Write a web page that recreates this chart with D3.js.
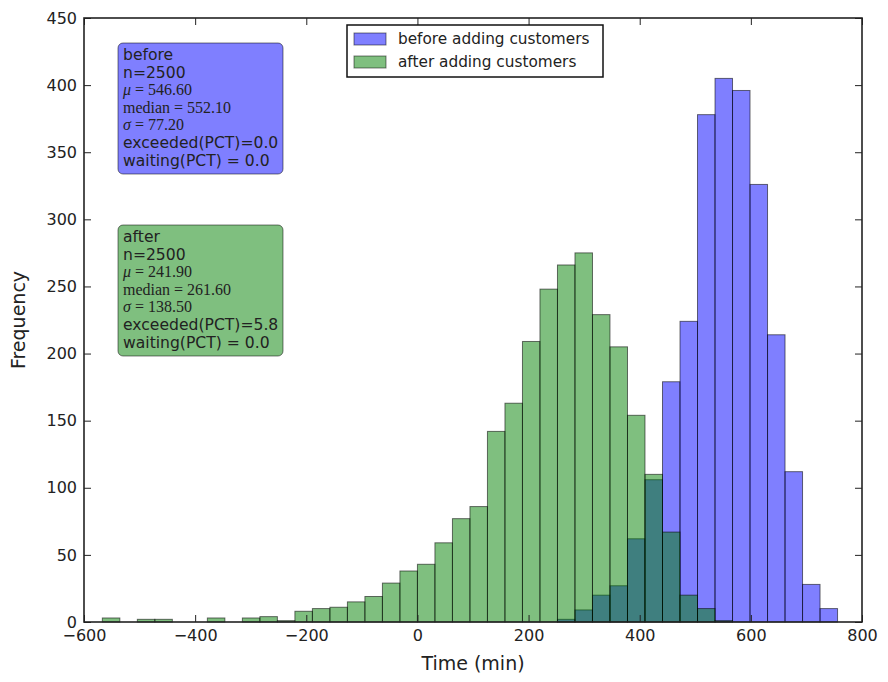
<!DOCTYPE html>
<html>
<head>
<meta charset="utf-8">
<script src="https://cdn.jsdelivr.net/npm/d3@7"></script>
<style>
  body { margin: 0; background: #fff; }
  text { font-family: "DejaVu Sans", sans-serif; fill: #222; }
  .math { font-family: "Liberation Serif", serif; }
</style>
</head>
<body>
<script>
// step 1: data

var binEdges = [-567, -535.5, -504, -472.5, -441, -409.5, -378, -346.5, -315, -283.5,
  -252, -220.5, -189, -157.5, -126, -94.5, -63, -31.5, 0, 31.5,
  63, 94.5, 126, 157.5, 189, 220.5, 252, 283.5, 315, 346.5,
  378, 409.5, 441, 472.5, 504, 535.5, 567, 598.5, 630, 661.5,
  693, 724.5, 756];

var beforeCounts = [0, 0, 0, 0, 0, 0, 0, 0, 0, 0,
  0, 0, 0, 0, 0, 0, 0, 0, 0, 0,
  0, 0, 0, 0, 0, 0, 2, 9, 20, 27,
  62, 106, 179, 224, 378, 405, 396, 326, 214, 112,
  28, 10];

var afterCounts = [3, 0, 2, 2, 0, 0, 3, 0, 3, 4,
  1, 8, 10, 11, 15, 19, 29, 38, 43, 59,
  77, 86, 142, 163, 209, 248, 266, 275, 229, 205,
  154, 110, 67, 20, 10, 1, 0, 0, 0, 0,
  0, 0];

var seriesNames = ["before adding customers", "after adding customers"];
var seriesColors = ["blue", "green"];

var xTicks = [-600, -400, -200, 0, 200, 400, 600, 800];
var yTicks = [0, 50, 100, 150, 200, 250, 300, 350, 400, 450];

// stats boxes: label, n, mu, median, sigma, exceeded, waiting
var boxLabels = ["before", "after"];
var boxN = ["2500", "2500"];
var boxMu = ["546.60", "241.90"];
var boxMedian = ["552.10", "261.60"];
var boxSigma = ["77.20", "138.50"];
var boxExceeded = ["0.0", "5.8"];
var boxWaiting = ["0.0", "0.0"];

// step 2: set up chart

var svgWidth = 888;
var svgHeight = 682;

var plot = { left: 84, right: 862, top: 18, bottom: 622 };

var svg = d3.select("body")
  .append("svg")
  .attr("width", svgWidth)
  .attr("height", svgHeight);

var xScale = d3.scaleLinear()
  .domain([-600, 800])
  .range([plot.left, plot.right]);

var yScale = d3.scaleLinear()
  .domain([0, 450])
  .range([plot.bottom, plot.top]);

// step 3: bars (before first, after on top)

function binData(counts) {
  return counts.map(function (c, i) {
    return { x0: binEdges[i], x1: binEdges[i + 1], count: c };
  }).filter(function (d) { return d.count > 0; });
}

[beforeCounts, afterCounts].forEach(function (counts, s) {
  svg.append("g")
    .selectAll("rect")
    .data(binData(counts))
    .enter()
    .append("rect")
    .attr("x", d => xScale(d.x0))
    .attr("width", d => xScale(d.x1) - xScale(d.x0))
    .attr("y", d => yScale(d.count))
    .attr("height", d => yScale(0) - yScale(d.count))
    .attr("fill", seriesColors[s])
    .attr("fill-opacity", 0.5)
    .attr("stroke", "black")
    .attr("stroke-opacity", 0.55)
    .attr("stroke-width", 1);
});

// step 4: axes, ticks pointing inward on all four sides

var bottomAxis = d3.axisBottom(xScale).tickValues(xTicks).tickSizeInner(-7).tickSizeOuter(0).tickPadding(8);
var topAxis = d3.axisTop(xScale).tickValues(xTicks).tickSizeInner(-7).tickSizeOuter(0).tickFormat("");
var leftAxis = d3.axisLeft(yScale).tickValues(yTicks).tickSizeInner(-7).tickSizeOuter(0).tickPadding(7);
var rightAxis = d3.axisRight(yScale).tickValues(yTicks).tickSizeInner(-7).tickSizeOuter(0).tickFormat("");

var axes = [
  svg.append("g").attr("transform", `translate(0, ${plot.bottom})`).call(bottomAxis),
  svg.append("g").attr("transform", `translate(0, ${plot.top})`).call(topAxis),
  svg.append("g").attr("transform", `translate(${plot.left}, 0)`).call(leftAxis),
  svg.append("g").attr("transform", `translate(${plot.right}, 0)`).call(rightAxis)
];
axes.forEach(function (g) {
  g.select(".domain").remove();
  g.selectAll("line").attr("stroke", "#222").attr("stroke-width", 1);
  g.selectAll("text").attr("font-size", "16px").attr("fill", "#222")
    .style("font-family", "'DejaVu Sans', sans-serif");
});

svg.append("rect")
  .attr("x", plot.left)
  .attr("y", plot.top)
  .attr("width", plot.right - plot.left)
  .attr("height", plot.bottom - plot.top)
  .attr("fill", "none")
  .attr("stroke", "#222")
  .attr("stroke-width", 1.6);

// axis labels
svg.append("text")
  .attr("x", (plot.left + plot.right) / 2)
  .attr("y", 670)
  .attr("text-anchor", "middle")
  .attr("font-size", "19px")
  .text("Time (min)");

svg.append("text")
  .attr("transform", `translate(25, ${(plot.top + plot.bottom) / 2}) rotate(-90)`)
  .attr("text-anchor", "middle")
  .attr("font-size", "19px")
  .text("Frequency");

// step 5: stats boxes

var boxTops = [43, 225];
var lineGap = 17.6;

boxLabels.forEach(function (label, b) {
  var g = svg.append("g").attr("transform", `translate(118, ${boxTops[b]})`);

  g.append("rect")
    .attr("width", 165)
    .attr("height", 131)
    .attr("rx", 5)
    .attr("fill", seriesColors[b])
    .attr("fill-opacity", 0.5)
    .attr("stroke", "black")
    .attr("stroke-opacity", 0.5);

  var lines = [
    { t: label },
    { t: "n=" + boxN[b] },
    { sym: "μ", t: boxMu[b] },
    { word: "median", t: boxMedian[b] },
    { sym: "σ", t: boxSigma[b] },
    { t: "exceeded(PCT)=" + boxExceeded[b] },
    { t: "waiting(PCT) = " + boxWaiting[b] }
  ];

  lines.forEach(function (ln, i) {
    var txt = g.append("text")
      .attr("x", 5)
      .attr("y", 17 + i * lineGap)
      .attr("font-size", "15.6px")
      .attr("fill", "#111");
    if (ln.sym) {
      txt.attr("class", "math").attr("font-size", "16px");
      txt.append("tspan").attr("font-style", "italic").text(ln.sym);
      txt.append("tspan").text(" = " + ln.t);
    } else if (ln.word) {
      txt.attr("class", "math").attr("font-size", "16px");
      txt.text(ln.word + " = " + ln.t);
    } else {
      txt.text(ln.t);
    }
  });
});

// step 6: legend

var legend = svg.append("g").attr("transform", "translate(347, 25)");

legend.append("rect")
  .attr("width", 256)
  .attr("height", 52)
  .attr("fill", "white")
  .attr("stroke", "#111")
  .attr("stroke-width", 1.5);

seriesNames.forEach(function (name, i) {
  legend.append("rect")
    .attr("x", 7)
    .attr("y", 8 + i * 23)
    .attr("width", 32)
    .attr("height", 12)
    .attr("fill", seriesColors[i])
    .attr("fill-opacity", 0.5)
    .attr("stroke", "black")
    .attr("stroke-opacity", 0.5);

  legend.append("text")
    .attr("x", 51)
    .attr("y", 19 + i * 23)
    .attr("font-size", "15.3px")
    .text(name);
});
</script>
</body>
</html>
